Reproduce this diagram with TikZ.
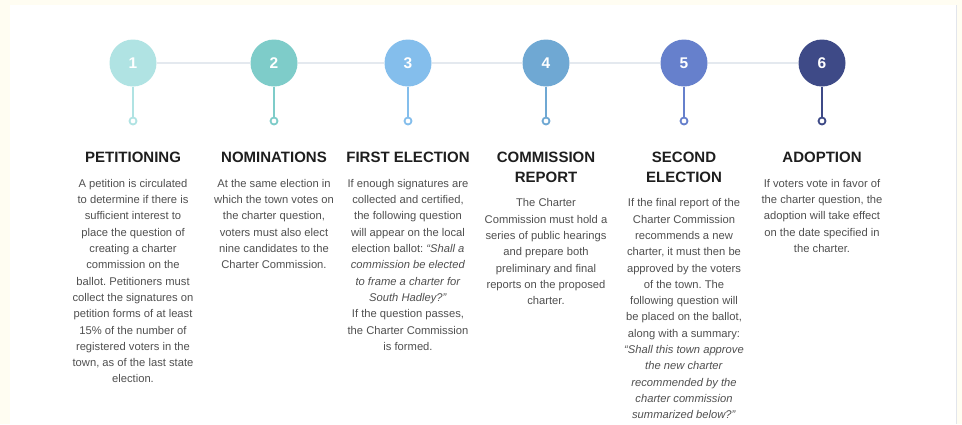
\documentclass[tikz,border=0pt]{standalone}
\usepackage{fontspec}
\setmainfont{Liberation Sans}
\usepackage{tikz}
\usetikzlibrary{positioning}
\frenchspacing

\definecolor{stepone}{HTML}{B0E3E3}
\definecolor{steptwo}{HTML}{7ECCC9}
\definecolor{stepthree}{HTML}{84BEEC}
\definecolor{stepfour}{HTML}{6FA8D3}
\definecolor{stepfive}{HTML}{6680CC}
\definecolor{stepsix}{HTML}{3E4A87}
\definecolor{trackgray}{HTML}{E4E9EF}
\definecolor{cream}{HTML}{FFFDF2}
\definecolor{edgegray}{HTML}{E2E5EC}
\definecolor{headblack}{HTML}{1E1E1E}
\definecolor{bodygray}{HTML}{505050}

\begin{document}
\begin{tikzpicture}[x=1pt,y=-1pt,
        num/.style={circle,minimum size=47pt,inner sep=0pt,text=white,
            font=\fontsize{15.5}{15.5}\selectfont\bfseries},
        ring/.style={circle,draw,line width=1.8pt,fill=white,minimum size=7pt,inner sep=0pt},
        stem/.style={line width=1.8pt},
        track/.style={line width=2.5pt,draw=trackgray},
        heading/.style={align=center,inner sep=0pt,text=headblack,
            font=\fontsize{15}{19.5}\selectfont\bfseries},
        blurb/.style={align=center,inner sep=0pt,text=bodygray,
            font=\fontsize{11.2}{16.3}\selectfont},
        node distance=16pt]
            \useasboundingbox (0,0) rectangle (962,424);
            \fill[cream] (0,0) rectangle (962,424);
            \fill[white] (10,5) rectangle (956,424);
            \draw[edgegray,line width=1pt] (956,5) -- (956,424);

            \node[num,fill=stepone] (c1) at (133,63) {1};
            \node[num,fill=steptwo] (c2) at (274,63) {2};
            \node[num,fill=stepthree] (c3) at (408,63) {3};
            \node[num,fill=stepfour] (c4) at (546,63) {4};
            \node[num,fill=stepfive] (c5) at (684,63) {5};
            \node[num,fill=stepsix] (c6) at (822,63) {6};
            \draw[track] (c1) -- (c2) -- (c3) -- (c4) -- (c5) -- (c6);

            \node[ring,draw=stepone] (r1) at (133,121) {};
            \node[ring,draw=steptwo] (r2) at (274,121) {};
            \node[ring,draw=stepthree] (r3) at (408,121) {};
            \node[ring,draw=stepfour] (r4) at (546,121) {};
            \node[ring,draw=stepfive] (r5) at (684,121) {};
            \node[ring,draw=stepsix] (r6) at (822,121) {};
            \draw[stem,stepone] (c1) -- (r1);
            \draw[stem,steptwo] (c2) -- (r2);
            \draw[stem,stepthree] (c3) -- (r3);
            \draw[stem,stepfour] (c4) -- (r4);
            \draw[stem,stepfive] (c5) -- (r5);
            \draw[stem,stepsix] (c6) -- (r6);

            \node[heading,anchor=north] (h1) at (133,152) {PETITIONING};
            \node[heading,anchor=north] (h2) at (274,152) {NOMINATIONS};
            \node[heading,anchor=north] (h3) at (408,152) {FIRST ELECTION};
            \node[heading,anchor=north] (h4) at (546,152) {COMMISSION\\REPORT};
            \node[heading,anchor=north] (h5) at (684,152) {SECOND\\ELECTION};
            \node[heading,anchor=north] (h6) at (822,152) {ADOPTION};

            \node[blurb,below=of h1] (b1) {A petition is circulated\\to determine if there is\\
                sufficient interest to\\place the question of\\creating a charter\\
                commission on the\\ballot. Petitioners must\\collect the signatures on\\
                petition forms of at least\\15\% of the number of\\registered voters in the\\
                town, as of the last state\\election.};
            \node[blurb,below=of h2] (b2) {At the same election in\\which the town votes on\\
                the charter question,\\voters must also elect\\nine candidates to the\\
                Charter Commission.};
            \node[blurb,below=of h3] (b3) {If enough signatures are\\collected and certified,\\
                the following question\\will appear on the local\\
                election ballot: \textit{“Shall a}\\\textit{commission be elected}\\
                \textit{to frame a charter for}\\\textit{South Hadley?”}\\
                If the question passes,\\the Charter Commission\\is formed.};
            \node[blurb,below=of h4] (b4) {The Charter\\Commission must hold a\\
                series of public hearings\\and prepare both\\preliminary and final\\
                reports on the proposed\\charter.};
            \node[blurb,below=of h5] (b5) {If the final report of the\\Charter Commission\\
                recommends a new\\charter, it must then be\\approved by the voters\\
                of the town. The\\following question will\\be placed on the ballot,\\
                along with a summary:\\\textit{“Shall this town approve}\\
                \textit{the new charter}\\\textit{recommended by the}\\
                \textit{charter commission}\\\textit{summarized below?”}};
            \node[blurb,below=of h6] (b6) {If voters vote in favor of\\the charter question, the\\
                adoption will take effect\\on the date specified in\\the charter.};
        \end{tikzpicture}
\end{document}
